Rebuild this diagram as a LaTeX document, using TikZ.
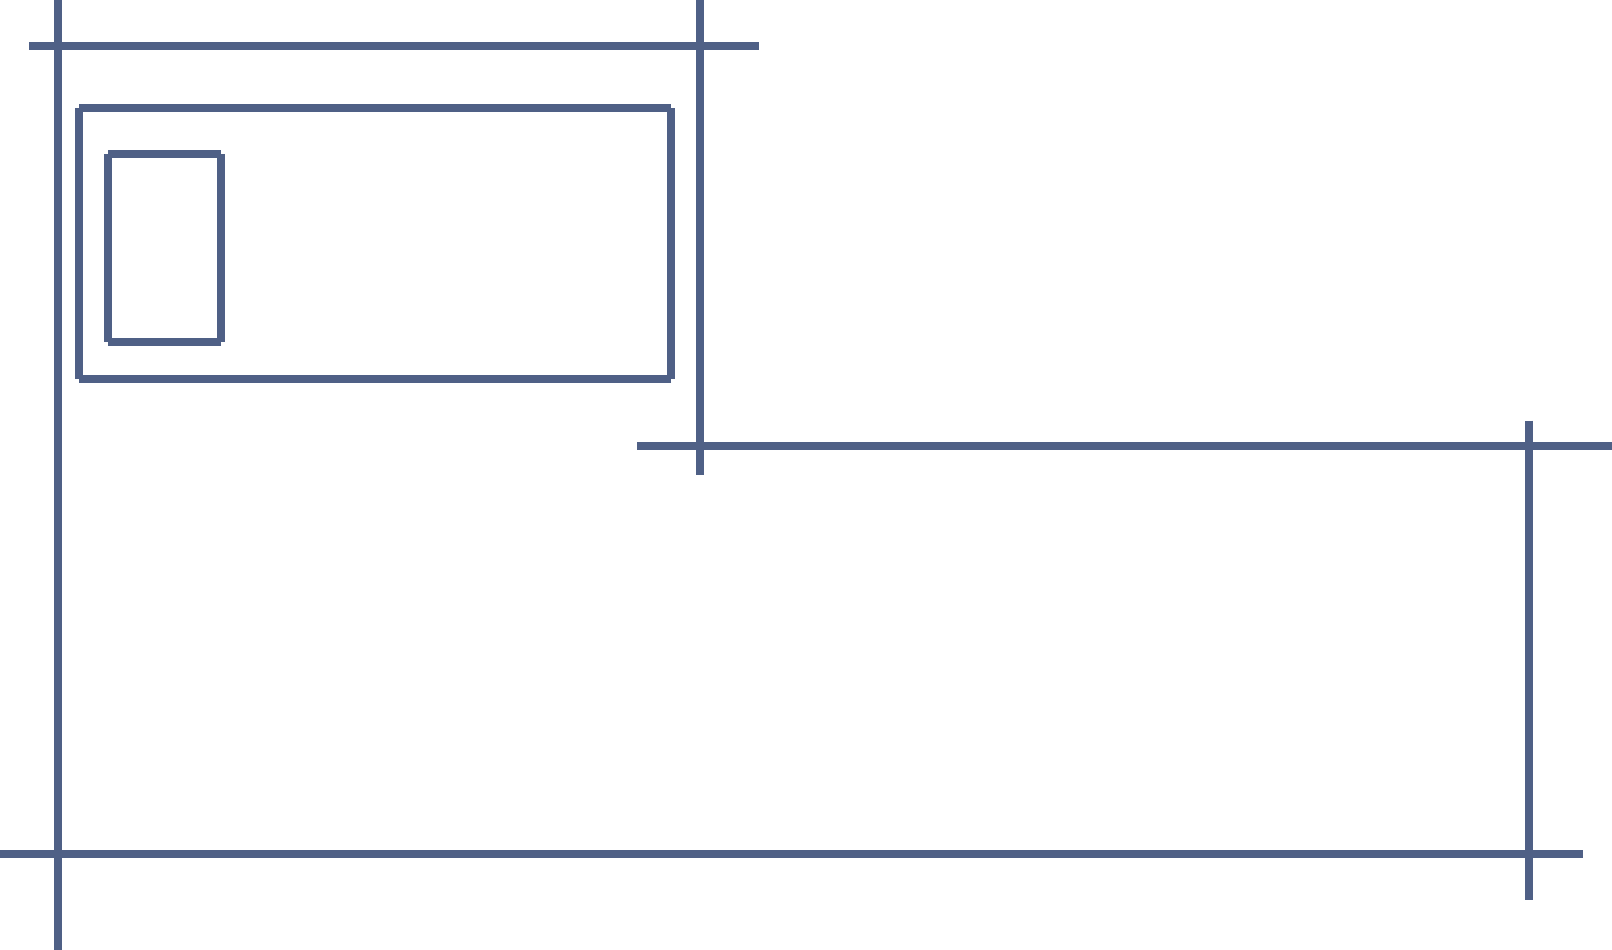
\documentclass[tikz,border=0pt]{standalone}
\definecolor{slate}{RGB}{79,96,134}
\tikzset{rule/.style={draw=slate,line width=8pt,line cap=butt}}
\begin{document}
\begin{tikzpicture}[x=1pt,y=-1pt]
\useasboundingbox (0,0) rectangle (1612,950);
% long guide lines
\draw[rule] (58.3,0) -- (58.3,950);
\draw[rule] (29,45.7) -- (759,45.7);
\draw[rule] (700,0) -- (700,475);
\draw[rule] (637.3,445.7) -- (1612,445.7);
\draw[rule] (1529,420.7) -- (1529,900);
\draw[rule] (0,854) -- (1583.3,854);
% outer rectangle (sides drawn separately)
\draw[rule] (79,108.3) -- (671,108.3);
\draw[rule] (671,108.3) -- (671,379);
\draw[rule] (671,379) -- (79,379);
\draw[rule] (79,379) -- (79,108.3);
% inner rectangle
\draw[rule] (108.3,154.3) -- (221,154.3);
\draw[rule] (221,154.3) -- (221,341.7);
\draw[rule] (221,341.7) -- (108.3,341.7);
\draw[rule] (108.3,341.7) -- (108.3,154.3);
\end{tikzpicture}
\end{document}
